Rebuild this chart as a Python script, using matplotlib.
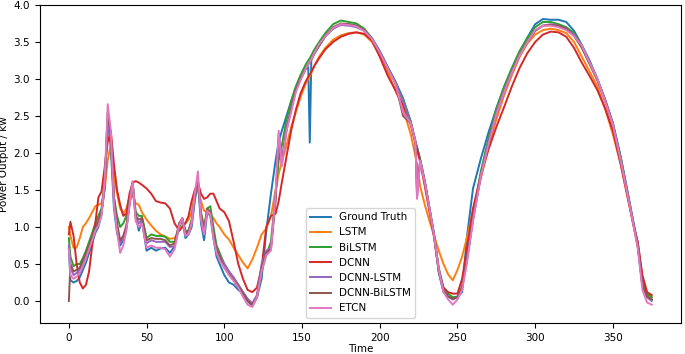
import numpy as np
import matplotlib
matplotlib.use("Agg")
import matplotlib.pyplot as plt

# sample positions (time index) shared by every series
time = [0, 1, 3, 5, 7, 9, 11, 13, 15, 17, 19, 21, 23, 25, 27, 29, 31, 33, 35, 37, 39, 41, 43, 45, 47,
        50, 53, 56, 59, 62, 65, 68, 71, 73, 75, 77, 79, 81, 83, 85, 87, 89, 91, 93, 95, 97,
        100, 103, 106, 109, 112, 115, 118, 121, 124, 127, 130, 133, 135, 137, 140, 143, 146, 149,
        152, 154, 155, 156, 158, 161, 165, 170, 175, 180, 185, 190, 195, 200, 205, 210, 215, 220,
        223, 224, 226, 229, 232, 235, 238, 241, 244, 247, 250, 253, 256,
        260, 265, 270, 275, 280, 285, 290, 295, 300, 305, 310, 315, 320, 325, 330, 335, 340, 345,
        350, 355, 360, 363, 366, 369, 372, 375]

ground_truth = [0.70, 0.28, 0.25, 0.27, 0.32, 0.42, 0.52, 0.65, 0.78, 0.92, 1.00, 1.18, 1.55, 2.48, 2.05, 1.25, 0.92, 0.75, 0.82, 0.98, 1.30, 1.58, 1.15, 0.95, 1.08,
                0.68, 0.72, 0.68, 0.71, 0.72, 0.65, 0.74, 1.00, 1.10, 0.85, 0.90, 1.00, 1.35, 1.60, 1.05, 0.82, 1.20, 1.15, 0.85, 0.60, 0.50,
                0.35, 0.25, 0.22, 0.15, 0.10, 0.00, -0.07, 0.05, 0.30, 0.95, 1.45, 1.90, 2.15, 2.30, 2.50, 2.70, 2.88, 3.00,
                3.13, 3.16, 2.14, 3.28, 3.35, 3.45, 3.58, 3.68, 3.74, 3.74, 3.72, 3.66, 3.55, 3.38, 3.17, 2.97, 2.74, 2.42,
                2.15, 2.08, 1.92, 1.62, 1.25, 0.88, 0.38, 0.12, 0.06, 0.04, 0.05, 0.12, 0.85,
                1.52, 1.92, 2.28, 2.60, 2.88, 3.12, 3.36, 3.56, 3.74, 3.81, 3.80, 3.80, 3.77, 3.65, 3.46, 3.25, 3.00, 2.72,
                2.40, 1.95, 1.42, 1.08, 0.75, 0.20, 0.06, 0.02]

lstm = [1.00, 0.88, 0.72, 0.72, 0.85, 1.00, 1.05, 1.12, 1.20, 1.28, 1.30, 1.32, 1.50, 1.90, 2.12, 1.70, 1.45, 1.25, 1.18, 1.25, 1.40, 1.42, 1.32, 1.30, 1.20,
        1.10, 1.02, 0.95, 0.90, 0.87, 0.84, 0.85, 0.95, 1.02, 1.05, 1.10, 1.20, 1.45, 1.50, 1.35, 1.22, 1.20, 1.17, 1.12, 1.05, 1.00,
        0.90, 0.83, 0.72, 0.62, 0.52, 0.44, 0.56, 0.72, 0.90, 0.98, 1.15, 1.50, 1.72, 1.88, 2.10, 2.35, 2.55, 2.75,
        2.92, 3.00, 3.04, 3.08, 3.18, 3.30, 3.42, 3.53, 3.59, 3.62, 3.63, 3.60, 3.50, 3.32, 3.10, 2.85, 2.60, 2.25,
        1.95, 1.85, 1.55, 1.30, 1.08, 0.88, 0.68, 0.50, 0.36, 0.28, 0.42, 0.60, 0.85,
        1.22, 1.65, 2.08, 2.45, 2.78, 3.05, 3.30, 3.48, 3.60, 3.66, 3.68, 3.66, 3.62, 3.50, 3.30, 3.10, 2.90, 2.60,
        2.25, 1.85, 1.35, 1.05, 0.72, 0.30, 0.10, 0.05]

bilstm = [0.85, 0.60, 0.47, 0.50, 0.50, 0.58, 0.68, 0.80, 0.92, 1.05, 1.15, 1.25, 1.60, 2.45, 2.20, 1.40, 1.15, 1.00, 1.05, 1.15, 1.40, 1.60, 1.20, 1.15, 1.15,
          0.85, 0.90, 0.88, 0.88, 0.87, 0.80, 0.80, 1.00, 1.12, 0.95, 0.95, 1.10, 1.40, 1.60, 1.20, 1.00, 1.25, 1.28, 1.00, 0.75, 0.65,
          0.50, 0.40, 0.30, 0.22, 0.12, 0.02, -0.05, 0.05, 0.40, 0.62, 0.80, 1.45, 1.90, 2.10, 2.45, 2.70, 2.90, 3.05,
          3.18, 3.25, 3.28, 3.32, 3.40, 3.50, 3.62, 3.74, 3.79, 3.77, 3.75, 3.68, 3.55, 3.36, 3.15, 2.95, 2.72, 2.42,
          2.15, 2.07, 1.90, 1.60, 1.25, 0.90, 0.45, 0.18, 0.10, 0.05, 0.06, 0.20, 0.55,
          1.15, 1.75, 2.20, 2.60, 2.90, 3.15, 3.38, 3.55, 3.70, 3.77, 3.77, 3.74, 3.70, 3.62, 3.45, 3.22, 3.00, 2.72,
          2.40, 1.95, 1.40, 1.08, 0.78, 0.30, 0.10, 0.05]

dcnn = [0.90, 1.07, 0.88, 0.50, 0.25, 0.17, 0.22, 0.40, 0.75, 1.05, 1.40, 1.48, 1.80, 2.15, 2.30, 1.85, 1.50, 1.30, 1.15, 1.18, 1.45, 1.60, 1.62, 1.60, 1.57,
        1.52, 1.45, 1.35, 1.33, 1.32, 1.25, 1.05, 0.95, 1.00, 1.05, 1.15, 1.35, 1.50, 1.60, 1.45, 1.38, 1.40, 1.45, 1.45, 1.35, 1.25,
        1.20, 1.08, 0.80, 0.50, 0.30, 0.15, 0.12, 0.18, 0.45, 1.00, 1.15, 1.18, 1.35, 1.60, 1.95, 2.30, 2.58, 2.80,
        2.95, 3.03, 3.06, 3.10, 3.18, 3.28, 3.40, 3.50, 3.57, 3.61, 3.63, 3.61, 3.52, 3.30, 3.05, 2.85, 2.65, 2.38,
        2.12, 2.05, 1.88, 1.55, 1.20, 0.85, 0.40, 0.18, 0.12, 0.10, 0.10, 0.30, 0.70,
        1.25, 1.70, 2.05, 2.35, 2.62, 2.90, 3.15, 3.35, 3.50, 3.60, 3.64, 3.63, 3.57, 3.42, 3.22, 3.04, 2.85, 2.60,
        2.30, 1.85, 1.35, 1.05, 0.80, 0.35, 0.12, 0.08]

dcnn_lstm = [0.75, 0.45, 0.35, 0.38, 0.42, 0.50, 0.60, 0.72, 0.85, 0.98, 1.05, 1.20, 1.50, 2.40, 2.20, 1.35, 1.00, 0.78, 0.85, 1.00, 1.30, 1.55, 1.12, 1.05, 1.10,
             0.78, 0.82, 0.80, 0.80, 0.80, 0.73, 0.74, 1.05, 1.10, 0.90, 0.92, 1.05, 1.40, 1.62, 1.15, 0.95, 1.22, 1.20, 0.90, 0.70, 0.62,
             0.50, 0.40, 0.32, 0.22, 0.12, 0.03, -0.03, 0.08, 0.50, 0.68, 0.72, 1.40, 2.25, 1.90, 2.35, 2.60, 2.85, 3.00,
             3.12, 3.20, 3.23, 3.27, 3.35, 3.45, 3.58, 3.68, 3.73, 3.72, 3.70, 3.65, 3.54, 3.36, 3.16, 2.95, 2.70, 2.40,
             2.15, 1.40, 1.90, 1.62, 1.25, 0.88, 0.42, 0.14, 0.06, 0.02, 0.05, 0.18, 0.55,
             1.10, 1.70, 2.15, 2.55, 2.85, 3.10, 3.33, 3.50, 3.65, 3.72, 3.74, 3.72, 3.68, 3.60, 3.43, 3.22, 3.00, 2.72,
             2.40, 1.92, 1.40, 1.08, 0.75, 0.20, 0.05, 0.00]

dcnn_bilstm = [0.00, 0.50, 0.40, 0.42, 0.45, 0.55, 0.65, 0.75, 0.88, 1.00, 1.08, 1.20, 1.55, 2.55, 2.25, 1.40, 1.05, 0.82, 0.88, 1.02, 1.35, 1.60, 1.15, 1.10, 1.12,
               0.82, 0.85, 0.84, 0.84, 0.82, 0.75, 0.78, 1.05, 1.12, 0.92, 0.95, 1.08, 1.42, 1.65, 1.18, 0.95, 1.25, 1.20, 0.92, 0.70, 0.60,
               0.45, 0.36, 0.28, 0.20, 0.10, 0.00, -0.05, 0.05, 0.45, 0.65, 0.70, 1.35, 2.20, 1.85, 2.30, 2.60, 2.85, 3.00,
               3.12, 3.20, 3.22, 3.26, 3.34, 3.45, 3.58, 3.70, 3.75, 3.74, 3.72, 3.66, 3.54, 3.36, 3.15, 2.95, 2.50, 2.40,
               2.15, 1.45, 1.90, 1.60, 1.25, 0.88, 0.40, 0.14, 0.06, 0.03, 0.05, 0.18, 0.55,
               1.10, 1.68, 2.12, 2.52, 2.82, 3.08, 3.32, 3.50, 3.65, 3.72, 3.73, 3.72, 3.68, 3.58, 3.42, 3.20, 2.98, 2.70,
               2.38, 1.90, 1.38, 1.05, 0.75, 0.22, 0.06, 0.02]

etcn = [0.70, 0.35, 0.30, 0.33, 0.38, 0.47, 0.58, 0.70, 0.82, 0.95, 1.02, 1.15, 1.60, 2.66, 2.30, 1.30, 0.95, 0.65, 0.75, 0.95, 1.30, 1.62, 1.08, 1.00, 1.05,
        0.72, 0.75, 0.72, 0.72, 0.70, 0.60, 0.70, 1.02, 1.12, 0.88, 0.90, 1.05, 1.45, 1.75, 1.10, 0.90, 1.22, 1.18, 0.85, 0.65, 0.55,
        0.45, 0.35, 0.27, 0.18, 0.06, -0.05, -0.08, 0.05, 0.40, 0.62, 0.68, 1.45, 2.30, 1.82, 2.30, 2.55, 2.82, 2.98,
        3.12, 3.20, 3.23, 3.27, 3.35, 3.47, 3.58, 3.69, 3.74, 3.73, 3.71, 3.65, 3.54, 3.36, 3.15, 2.94, 2.55, 2.40,
        2.15, 1.38, 1.90, 1.60, 1.25, 0.88, 0.42, 0.12, 0.02, -0.05, 0.02, 0.15, 0.50,
        1.08, 1.68, 2.12, 2.52, 2.82, 3.08, 3.32, 3.50, 3.66, 3.72, 3.72, 3.70, 3.66, 3.58, 3.45, 3.22, 3.00, 2.70,
        2.38, 1.90, 1.38, 1.05, 0.72, 0.15, -0.02, -0.05]

series = [
    ("Ground Truth", ground_truth),
    ("LSTM", lstm),
    ("BiLSTM", bilstm),
    ("DCNN", dcnn),
    ("DCNN-LSTM", dcnn_lstm),
    ("DCNN-BiLSTM", dcnn_bilstm),
    ("ETCN", etcn),
]

fig = plt.figure(figsize=(6.85, 3.54), dpi=100)
ax = fig.add_axes([0.058, 0.088, 0.936, 0.898])

for name, vals in series:
    ax.plot(time, vals, label=name, linewidth=1.4)

ax.set_xlabel("Time", fontsize=7.5, labelpad=1)
ax.set_ylabel("Power Output / kw", fontsize=7.5, labelpad=3)
ax.tick_params(labelsize=7.5)
ax.set_yticks(np.arange(0, 4.01, 0.5))
ax.set_ylim(-0.295, 4.0)
ax.legend(loc="lower center", fontsize=7.5, frameon=True)

fig.savefig("out.png", dpi=100)
plt.close(fig)
